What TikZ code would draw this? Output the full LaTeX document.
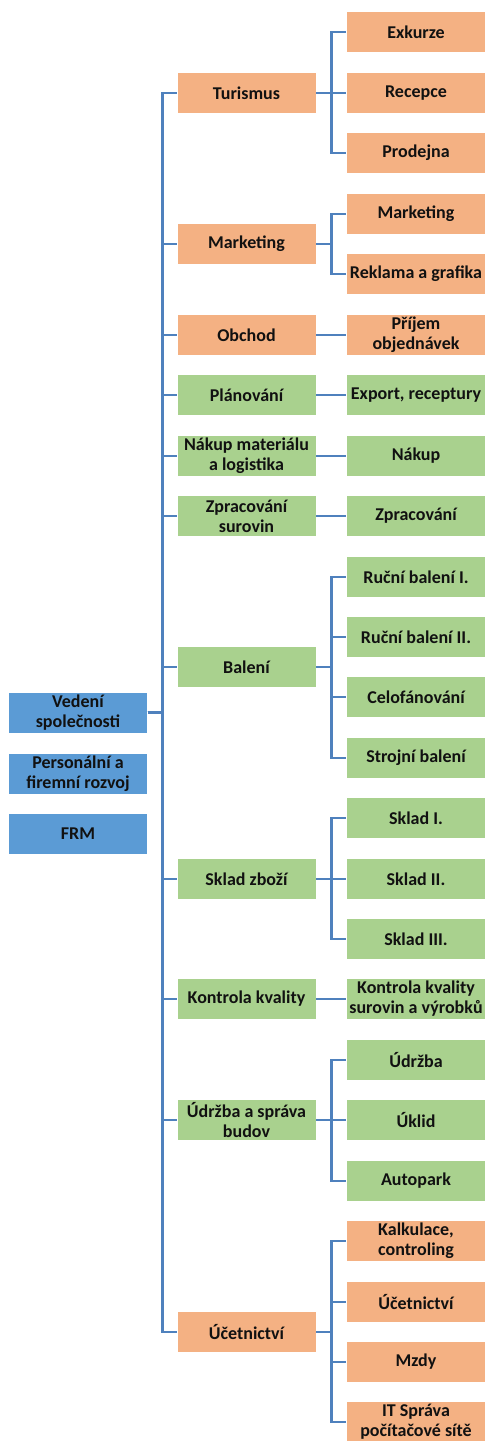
\documentclass[tikz,border=0pt]{standalone}
\usepackage{fontspec}
\setmainfont{Carlito}
\definecolor{orng}{HTML}{F4B183}
\definecolor{grn}{HTML}{A9D18E}
\definecolor{blu}{HTML}{5B9BD5}
\definecolor{lin}{HTML}{4F81BD}
\definecolor{txt}{HTML}{111111}
\begin{document}
\begin{tikzpicture}[x=1pt,y=-1pt,
  box/.style={rectangle,draw=white,line width=0.6pt,minimum width=139pt,minimum height=41pt,inner sep=0pt,align=center,text=txt,font=\fontsize{18}{20}\selectfont\bfseries},
  ob/.style={box,fill=orng},
  gb/.style={box,fill=grn},
  bb/.style={box,fill=blu},
  con/.style={draw=lin,line width=2.8pt}]
\useasboundingbox (0,0) rectangle (487,1441);
% left column
\node[bb] (ved) at (78,712.5) {Vedení\\společnosti};
\node[bb] (per) at (78,773.5) {Personální a\\firemní rozvoj};
\node[bb] (frm) at (78,833.5) {FRM};
% middle column
\node[ob] (tur) at (246.5,93) {Turismus};
\node[ob] (mar) at (246.5,244) {Marketing};
\node[ob] (obc) at (246.5,335) {Obchod};
\node[gb] (pla) at (246.5,395) {Plánování};
\node[gb] (nak) at (246.5,456) {Nákup materiálu\\a logistika};
\node[gb] (zpr) at (246.5,516) {Zpracování\\surovin};
\node[gb] (bal) at (246.5,667) {Balení};
\node[gb] (skl) at (246.5,879) {Sklad zboží};
\node[gb] (kon) at (246.5,999) {Kontrola kvality};
\node[gb] (udr) at (246.5,1120) {Údržba a správa\\budov};
\node[ob] (uce) at (246.5,1332) {Účetnictví};
% right column
\node[ob] (exk) at (416,32) {Exkurze};
\node[ob] (rec) at (416,93) {Recepce};
\node[ob] (pro) at (416,153) {Prodejna};
\node[ob] (mar2) at (416,214) {Marketing};
\node[ob] (rek) at (416,274) {Reklama a grafika};
\node[ob] (pri) at (416,335) {Příjem\\objednávek};
\node[gb] (exp) at (416,395) {Export, receptury};
\node[gb] (nak2) at (416,456) {Nákup};
\node[gb] (zpr2) at (416,516) {Zpracování};
\node[gb] (r1) at (416,577) {Ruční balení I.};
\node[gb] (r2) at (416,637) {Ruční balení II.};
\node[gb] (cel) at (416,697) {Celofánování};
\node[gb] (str) at (416,758) {Strojní balení};
\node[gb] (s1) at (416,818) {Sklad I.};
\node[gb] (s2) at (416,879) {Sklad II.};
\node[gb] (s3) at (416,939) {Sklad III.};
\node[gb] (kon2) at (416,999) {Kontrola kvality\\surovin a výrobků};
\node[gb] (udr2) at (416,1060) {Údržba};
\node[gb] (ukl) at (416,1120) {Úklid};
\node[gb] (aut) at (416,1181) {Autopark};
\node[ob] (kal) at (416,1241) {Kalkulace,\\controling};
\node[ob] (uce2) at (416,1302) {Účetnictví};
\node[ob] (mzd) at (416,1362) {Mzdy};
\node[ob] (it) at (416,1422) {IT Správa\\počítačové sítě};
% main spine
\foreach \m in {tur,mar,obc,pla,nak,zpr,bal,skl,kon,udr,uce}
  \draw[con] (ved.east) -- ++(15,0) |- (\m.west);
% sub branches
\foreach \p/\c in {tur/exk,tur/rec,tur/pro,mar/mar2,mar/rek,obc/pri,pla/exp,nak/nak2,zpr/zpr2,
  bal/r1,bal/r2,bal/cel,bal/str,skl/s1,skl/s2,skl/s3,kon/kon2,udr/udr2,udr/ukl,udr/aut,
  uce/kal,uce/uce2,uce/mzd,uce/it}
  \draw[con] (\p.east) -- ++(15,0) |- (\c.west);
\end{tikzpicture}
\end{document}
